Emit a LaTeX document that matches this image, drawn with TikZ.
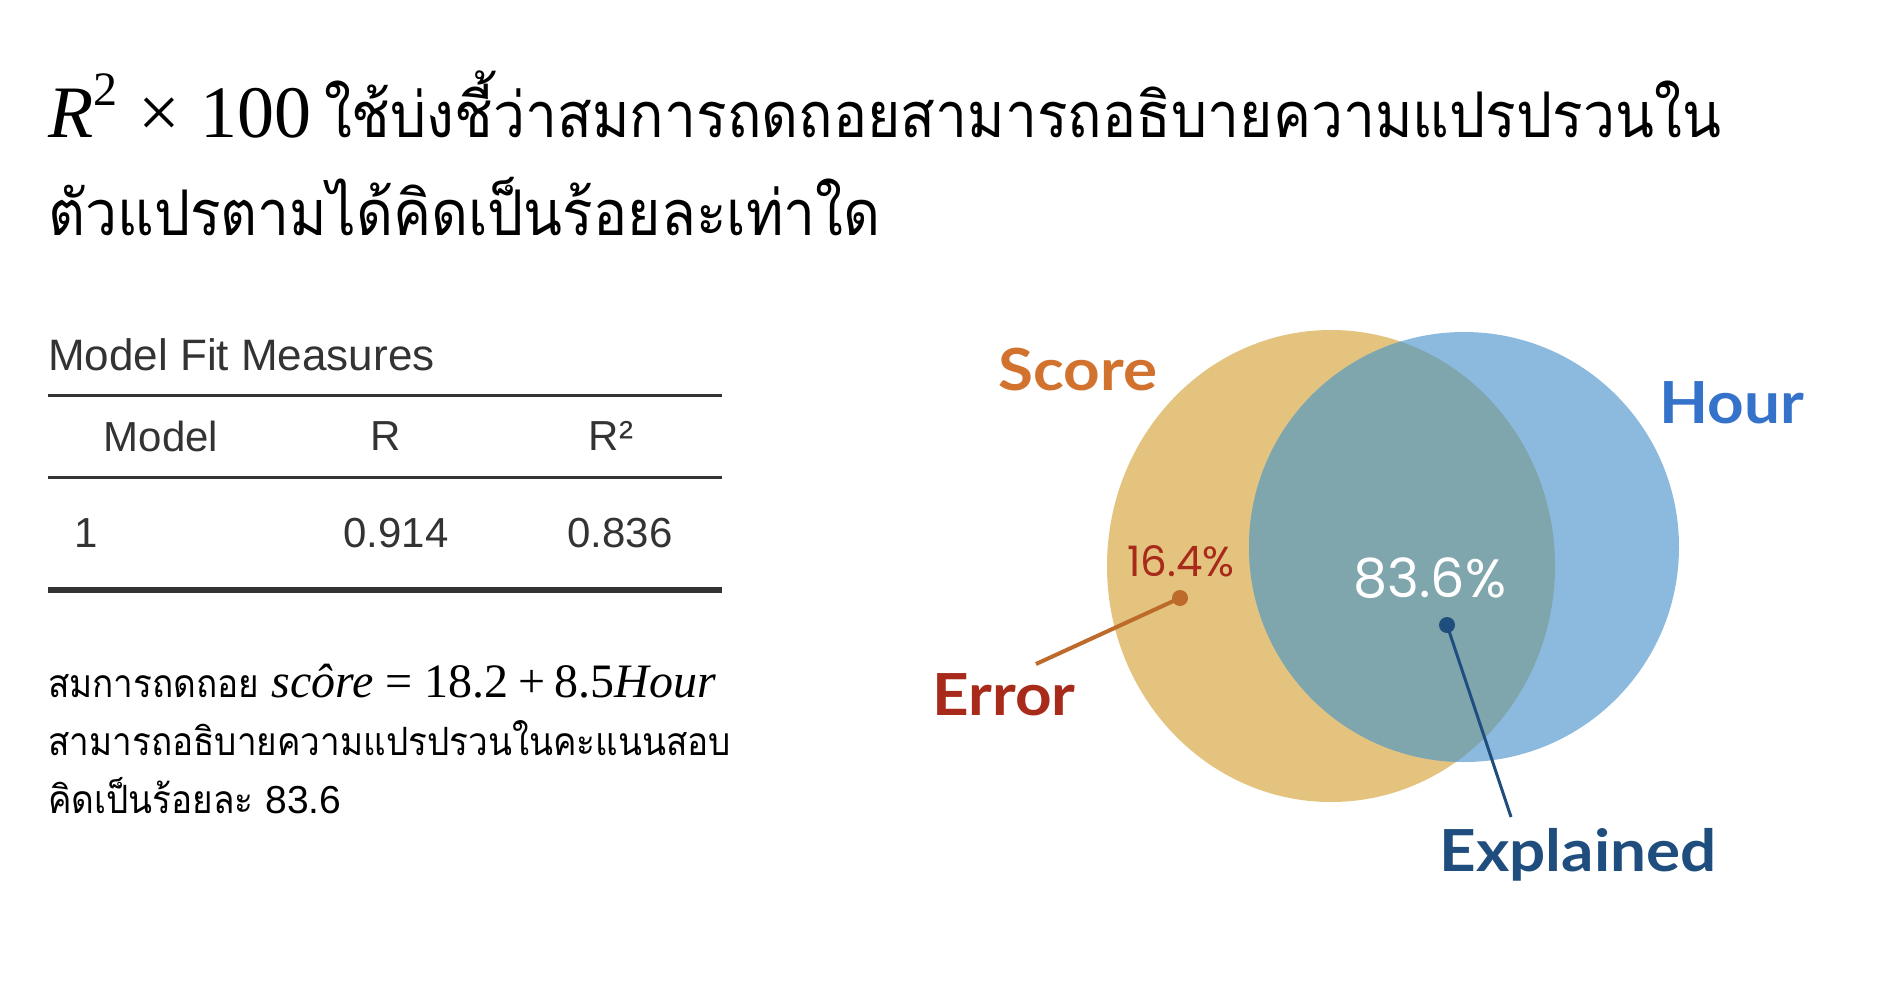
\documentclass[tikz,border=0pt]{standalone}
\usepackage{fontspec}
\newfontfamily\thai[Script=Thai, FakeStretch=0.905]{Loma}
\newfontfamily\thaib[Script=Thai, FakeStretch=0.9]{Loma}
\newfontfamily\tabf{Liberation Sans}
\newfontfamily\lbl[FakeStretch=1.1]{Lato}
\newfontfamily\pct{Poppins}
\newfontfamily\ser{Liberation Serif}
\definecolor{yel}{HTML}{E3C37E}
\definecolor{blu}{HTML}{8CBADF}
\definecolor{ovl}{HTML}{7FA5AD}
\definecolor{scorec}{HTML}{D2722F}
\definecolor{hourc}{HTML}{3572C9}
\definecolor{errc}{HTML}{A82A1A}
\definecolor{expc}{HTML}{1F4E7E}
\definecolor{orl}{HTML}{BD6A2A}
\definecolor{tabc}{HTML}{333333}
\tikzset{
  titletext/.style={anchor=base west, inner sep=0pt, font=\thai\fontsize{63}{63}\selectfont},
  tabtext/.style={inner sep=0pt, text=tabc, font=\tabf\fontsize{42}{42}\selectfont},
  bodytext/.style={anchor=base west, inner sep=0pt, font=\thaib\fontsize{39}{39}\selectfont},
  rulel/.style={draw=tabc, line width=#1},
  lbltext/.style={inner sep=0pt, font=\lbl\bfseries\fontsize{58}{58}\selectfont},
  pcttext/.style={inner sep=0pt, font=\pct\fontsize{#1}{#1}\selectfont},
}
\begin{document}
\begin{tikzpicture}[x=1pt,y=-1pt]
\useasboundingbox[fill=white] (0,0) rectangle (1880,986);
% title
\node[titletext] (t1) at (48,137) {{\ser\fontsize{74}{74}\selectfont\itshape R\/\upshape\raisebox{0.42em}{\fontsize{48}{48}\selectfont 2}\hspace{0.28em}×\hspace{0.28em}100}\hspace{0.2em}ใช้บ่งชี้ว่าสมการถดถอยสามารถอธิบายความแปรปรวนใน};
\node[titletext] (t2) at (48,235) {ตัวแปรตามได้คิดเป็นร้อยละเท่าใด};
% table
\node[tabtext, anchor=west, font=\tabf\fontsize{44}{44}\selectfont] (cap) at (48,355) {Model Fit Measures};
\coordinate (l1a) at (48,395); \coordinate (l1b) at (722,395);
\coordinate (l2a) at (48,477); \coordinate (l2b) at (722,477);
\coordinate (l3a) at (48,590); \coordinate (l3b) at (722,590);
\draw[rulel=3pt] (l1a) -- (l1b);
\draw[rulel=3pt] (l2a) -- (l2b);
\draw[rulel=6pt] (l3a) -- (l3b);
\node[tabtext] (hm) at (161,436) {Model};
\node[tabtext] (hr) at (386,436) {R};
\node[tabtext] (hr2) at (611,436) {R²};
\node[tabtext] (c1) at (86,533) {1};
\node[tabtext] (c2) at (396,533) {0.914};
\node[tabtext] (c3) at (620,533) {0.836};
% body text
\node[bodytext] (b1) at (48,697) {สมการถดถอย {\ser\fontsize{48}{48}\selectfont\itshape scôre\upshape\hspace{0.25em}=\hspace{0.25em}18.2\hspace{0.2em}+\hspace{0.2em}8.5\itshape Hour}};
\node[bodytext] (b2) at (48,755) {สามารถอธิบายความแปรปรวนในคะแนนสอบ};
\node[bodytext] (b3) at (48,813) {คิดเป็นร้อยละ {\tabf 83.6}};
% venn
\fill[yel] (1331,566) ellipse[x radius=224, y radius=236];
\fill[blu] (1464,547) ellipse[x radius=215, y radius=215];
\begin{scope}
\clip (1331,566) ellipse[x radius=224, y radius=236];
\fill[ovl] (1464,547) ellipse[x radius=215, y radius=215];
\end{scope}
\node[lbltext, text=scorec] (score) at (1078,370) {Score};
\node[lbltext, text=hourc] (hour) at (1732,403) {Hour};
\node[lbltext, text=errc] (err) at (1004,695) {Error};
\node[lbltext, text=expc] (exp) at (1578,855) {Explained};
\node[pcttext=42, text=errc] (p1) at (1181,561) {16.4\%};
\node[pcttext=54, text=white] (p2) at (1430,578) {83.6\%};
\coordinate (d1) at (1180,598);
\coordinate (d2) at (1447,625);
\coordinate (e1) at (1036,664);
\coordinate (e2) at (1511,817);
\draw[orl, line width=4pt] (d1) -- (e1);
\fill[orl] (d1) circle[radius=8];
\draw[expc, line width=3pt] (d2) -- (e2);
\fill[expc] (d2) circle[radius=8];
\end{tikzpicture}
\end{document}
